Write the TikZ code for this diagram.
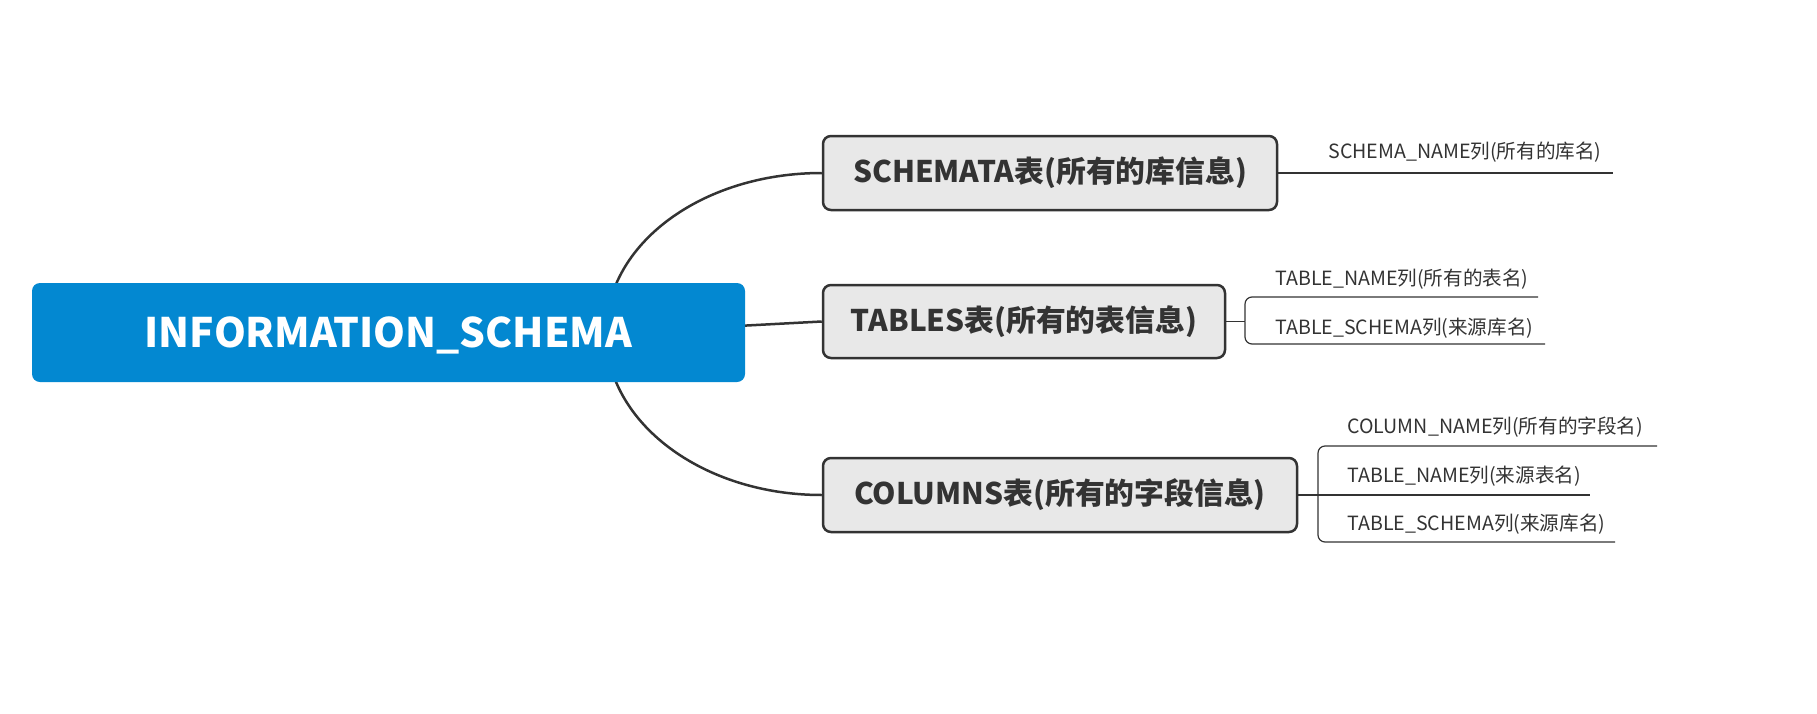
\documentclass[tikz,border=0pt]{standalone}
\usepackage{fontspec}
\setmainfont{Noto Sans CJK SC}
\usetikzlibrary{calc}
\pgfdeclarelayer{bg}
\pgfsetlayers{bg,main}
\definecolor{rootblue}{RGB}{3,136,209}
\definecolor{boxfill}{RGB}{232,232,232}
\definecolor{ink}{RGB}{51,51,51}
\tikzset{
  rootbox/.style={fill=rootblue, rounded corners=4pt, inner sep=0pt, text=white,
    font=\fontsize{20.3}{24}\selectfont\bfseries},
  topicbox/.style={draw=ink, fill=boxfill, line width=1.25pt, rounded corners=4pt, inner sep=0pt,
    text=ink, font=\fontsize{14.9}{18}\selectfont\bfseries},
  leaftext/.style={anchor=west, inner sep=0pt, text=ink, font=\fontsize{9.8}{12}\selectfont},
  mainline/.style={draw=ink, line width=1.25pt},
  leafline/.style={draw=ink, line width=0.6pt, rounded corners=3.5pt}
}
\begin{document}
\begin{tikzpicture}[x=0.5pt,y=-0.5pt]
\useasboundingbox (0,0) rectangle (1817,713);
% root and topics
\node[rootbox, minimum width=356.5pt, minimum height=49.5pt] (root) at (388.5,332.5) {\raisebox{-1.6pt}[\height][\depth]{INFORMATION\_SCHEMA}};
\node[topicbox, minimum width=227pt, minimum height=37pt] (schemata) at (1050,173) {SCHEMATA表(所有的库信息)};
\node[topicbox, minimum width=201pt, minimum height=36.5pt] (tables) at (1024,321.5) {TABLES表(所有的表信息)};
\node[topicbox, minimum width=237pt, minimum height=37pt] (columns) at (1060,495) {COLUMNS表(所有的字段信息)};
% leaves
\node[leaftext] (l1) at (1328,152) {SCHEMA\_NAME列(所有的库名)};
\node[leaftext] (l2) at (1275,279) {TABLE\_NAME列(所有的表名)};
\node[leaftext] (l3) at (1275,328) {TABLE\_SCHEMA列(来源库名)};
\node[leaftext] (l4) at (1347,427) {COLUMN\_NAME列(所有的字段名)};
\node[leaftext] (l5) at (1347,476) {TABLE\_NAME列(来源表名)};
\node[leaftext] (l6) at (1347,524) {TABLE\_SCHEMA列(来源库名)};
% helper coordinates
\coordinate (hub) at (606,333);
\coordinate (e1) at (1613,173);
\coordinate (tb) at (1245,321.5);
\coordinate (e2) at (1538,297);
\coordinate (e3) at (1545,344);
\coordinate (cb) at (1318,495);
\coordinate (e4) at (1657,446);
\coordinate (e5) at (1590,495);
\coordinate (e6) at (1615,542);
\begin{pgfonlayer}{bg}
\draw[mainline] (hub) .. controls +(0,-89) and +(-120,0) .. (schemata.west);
\draw[mainline] (hub) .. controls +(0,89) and +(-120,0) .. (columns.west);
\draw[mainline] (hub) -- (tables.west);
\draw[leafline] (schemata.east) -- (e1);
\draw[leafline] (tables.east) -- (tb);
\draw[leafline] (tb) |- (e2);
\draw[leafline] (tb) |- (e3);
\draw[leafline] (columns.east) -- (e5);
\draw[leafline] (cb) |- (e4);
\draw[leafline] (cb) |- (e6);
\end{pgfonlayer}
\end{tikzpicture}
\end{document}
